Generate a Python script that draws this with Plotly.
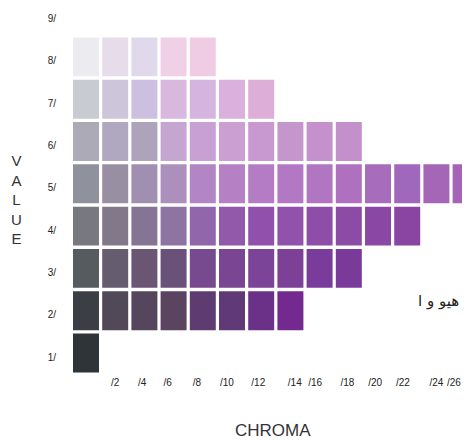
import plotly.graph_objects as go

# ---- data ----
values = [1, 2, 3, 4, 5, 6, 7, 8]
max_chroma = [0, 14, 18, 22, 26, 18, 12, 8]
value_labels = ["1/", "2/", "3/", "4/", "5/", "6/", "7/", "8/", "9/"]
value_ticks = [1, 2, 3, 4, 5, 6, 7, 8, 9]
chroma_labels = ["/2", "/4", "/6", "/8", "/10", "/12", "/14", "/16", "/18", "/20", "/22", "/24", "/26"]
# tick label positions as printed (slightly irregular in the source)
chroma_label_pos = [2.0, 3.85, 5.6, 7.6, 9.65, 11.8, 14.3, 15.7, 17.9, 19.8, 21.7, 24.0, 25.2]

colors_v1 = ["#2e3438"]
colors_v2 = ["#3b3f45", "#514958", "#55455d", "#5a4460", "#5e3c72", "#603a76", "#6b3088", "#74298f"]
colors_v3 = ["#565b60", "#665c70", "#6a5673", "#6a517a", "#774a8f", "#7a4694", "#7b4498", "#7d4097",
             "#7a3c9a", "#7a3a9a"]
colors_v4 = ["#787880", "#82788a", "#867494", "#8e74a2", "#9266aa", "#9258aa", "#9050ac", "#9052aa",
             "#8e4ea8", "#8c4ca6", "#8a48a4", "#8a44a2"]
colors_v5 = ["#8f929c", "#988fa2", "#a08fb0", "#ad8fbd", "#b285c4", "#b580c4", "#b47cc4", "#b378c4",
             "#b076c2", "#b070c0", "#a76cbc", "#a068bc", "#a566b8", "#a664b8"]
colors_v6 = ["#adaab8", "#b0a8c0", "#ada4bc", "#c5a6d0", "#c9a0d4", "#cc9fd2", "#c898d0", "#c596cc",
             "#c491cc", "#c390cc"]
colors_v7 = ["#c9cbd2", "#cdc5da", "#cdbfe0", "#d9b8de", "#d6b4e0", "#dab0dc", "#dcaed8"]
colors_v8 = ["#ecebf0", "#e6dcea", "#e0d9ec", "#f0d0e6", "#f0cce4"]

row_colors = [colors_v1, colors_v2, colors_v3, colors_v4, colors_v5, colors_v6, colors_v7, colors_v8]

fig = go.Figure()
for v, mc, cols in zip(values, max_chroma, row_colors):
    chromas = list(range(0, mc + 1, 2))
    fig.add_trace(go.Bar(
        x=chromas,
        y=[0.92] * len(chromas),
        base=v - 0.46,
        width=1.78,
        marker=dict(color=cols, line=dict(width=0)),
        hoverinfo="skip",
        showlegend=False,
    ))

# The page has an 8px body margin, so the figure is drawn at (8, 8) in the window.
# Plot area in window pixels: x 60..470, y 8..375
fig.update_layout(
    width=462, height=432,
    margin=dict(l=52, r=0, t=0, b=65),
    paper_bgcolor="white", plot_bgcolor="white",
    barmode="overlay",
    font=dict(family="Liberation Sans, Arial, sans-serif", color="#333333"),
    xaxis=dict(
        range=[-1.78, 26.3],
        tickmode="array", tickvals=chroma_label_pos, ticktext=chroma_labels,
        showgrid=False, zeroline=False, showline=False, ticks="",
        tickfont=dict(size=10, color="#222222"),
        automargin=False,
        fixedrange=True,
    ),
    yaxis=dict(
        range=[0.48, 9.156],
        tickmode="array", tickvals=value_ticks, ticktext=value_labels,
        showgrid=False, zeroline=False, showline=False, ticks="",
        tickfont=dict(size=10, color="#222222"),
        ticklabelstandoff=3,
        ticklabelshift=4,
        automargin=False,
        fixedrange=True,
    ),
)


def px_to_paper(px, py):
    return (px - 60) / 410, 1 - (py - 8) / 367


vx, vy = px_to_paper(16, 200)
fig.add_annotation(text="V<br>A<br>L<br>U<br>E", xref="paper", yref="paper",
                   x=vx, y=vy, xanchor="center", yanchor="middle",
                   showarrow=False, font=dict(size=15, color="#333333"), align="center")
cx, cy = px_to_paper(273, 430)
fig.add_annotation(text="CHROMA", xref="paper", yref="paper",
                   x=cx, y=cy, xanchor="center", yanchor="middle",
                   showarrow=False, font=dict(size=17, color="#333333"))
ax, ay = px_to_paper(438, 301)
fig.add_annotation(text="هیو و ا", xref="paper", yref="paper",
                   x=ax, y=ay, xanchor="center", yanchor="middle",
                   showarrow=False,
                   font=dict(size=15, color="#222222", family="DejaVu Sans, sans-serif"))

fig.write_html("out.html")
